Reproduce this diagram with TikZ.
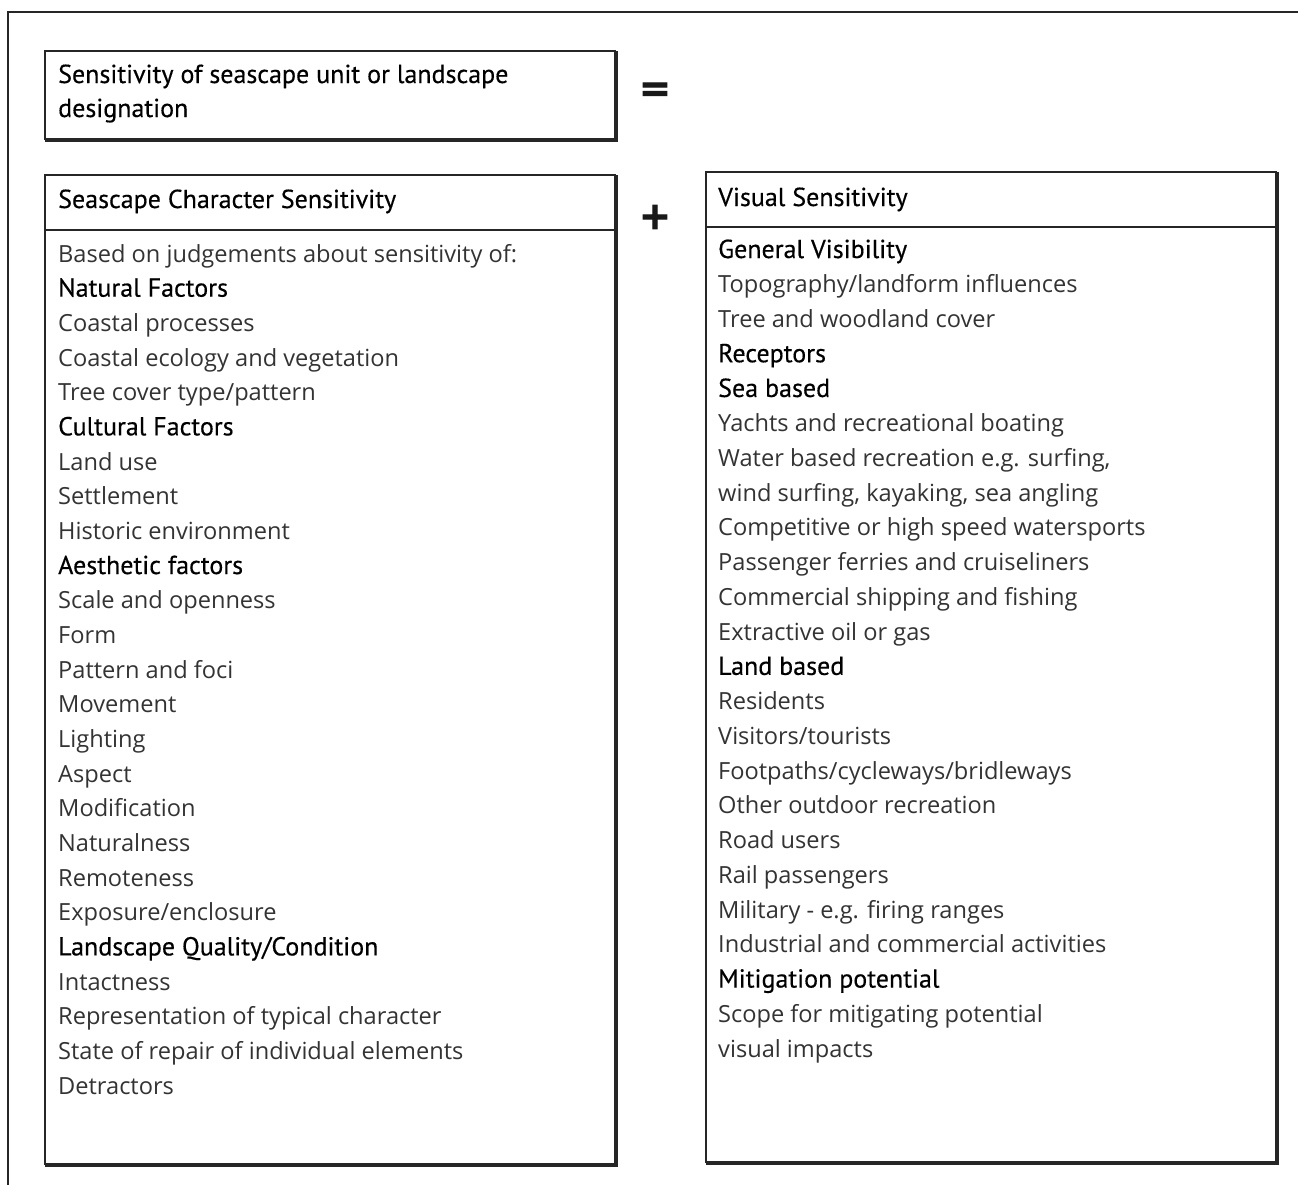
\documentclass[tikz,border=0pt]{standalone}
\usepackage{fontspec}
\setmainfont{Open Sans}
\newfontfamily\headfont[FakeBold=0.4]{PT Sans}
\newfontfamily\signfont[FakeBold=2.5, BoldFeatures={FakeBold=2.5}]{DejaVu Sans}
\newcommand\bodysize{\fontsize{23.6}{28}\selectfont}
\newcommand\hd[1]{{\headfont\fontsize{26}{28}\selectfont\color{black}#1}}
\begin{document}
\begin{tikzpicture}[x=1pt,y=-1pt,
  frame/.style={draw=black!85, line width=2pt},
  panel/.style={draw=black!85, line width=2pt, anchor=north west, inner sep=0pt},
  shade/.style={draw=black!85, line width=1.2pt},
  body/.style={anchor=base west, inner sep=0pt, font=\bodysize, text=black!80},
  title/.style={anchor=base west, inner sep=0pt, font=\headfont\fontsize{26}{28}\selectfont, text=black},
  sign/.style={inner sep=0pt, font=\signfont\bfseries\fontsize{38}{38}\selectfont, text=black!90}]
\useasboundingbox (0,0) rectangle (1298,1184);

% outer frame, open to the right and bottom
\draw[frame] (8,1190) -- (8,12) -- (1305,12);

% panels
\node[panel, minimum width=570pt, minimum height=88pt] (total) at (44,50) {};
\node[panel, minimum width=570pt, minimum height=989pt] (character) at (44,174) {};
\node[panel, minimum width=570pt, minimum height=990pt] (visual) at (705,171) {};

% slightly heavier lower and right edges
\foreach \p in {total,character,visual}
  \draw[shade] ([shift={(1pt,-1pt)}]\p.south west) -- ([shift={(1pt,-1pt)}]\p.south east)
               -- ([shift={(1pt,-1pt)}]\p.north east);

% header dividers
\draw[frame] ([yshift=-56pt]character.north west) -- ([yshift=-56pt]character.north east);
\draw[frame] ([yshift=-56pt]visual.north west) -- ([yshift=-56pt]visual.north east);

% operator signs
\node[sign] (eq) at (655,92) {=};
\node[sign] (plus) at (655,217) {+};

% titles
\node[title] (t1) at (58,83) {Sensitivity of seascape unit or landscape};
\node[title] (t2) at (58,117) {designation};
\node[title] (ch) at (58,208) {Seascape Character Sensitivity};
\node[title] (vh) at (718,206) {Visual Sensitivity};

% character sensitivity list
\foreach \t [count=\i from 0] in {
  Based on judgements about sensitivity of:,
  \hd{Natural Factors},
  Coastal processes,
  Coastal ecology and vegetation,
  Tree cover type/pattern,
  \hd{Cultural Factors},
  Land use,
  Settlement,
  Historic environment,
  \hd{Aesthetic factors},
  Scale and openness,
  Form,
  Pattern and foci,
  Movement,
  Lighting,
  Aspect,
  Modification,
  Naturalness,
  Remoteness,
  Exposure/enclosure,
  \hd{Landscape Quality/Condition},
  Intactness,
  Representation of typical character,
  State of repair of individual elements,
  Detractors}
  \node[body] (c\i) at (58,{262+34.67*\i}) {\t};

% visual sensitivity list
\foreach \t [count=\i from 0] in {
  \hd{General Visibility},
  Topography/landform influences,
  Tree and woodland cover,
  \hd{Receptors},
  \hd{Sea based},
  Yachts and recreational boating,
  {Water based recreation e.g. surfing,},
  {wind surfing, kayaking, sea angling},
  Competitive or high speed watersports,
  Passenger ferries and cruiseliners,
  Commercial shipping and fishing,
  Extractive oil or gas,
  \hd{Land based},
  Residents,
  Visitors/tourists,
  Footpaths/cycleways/bridleways,
  Other outdoor recreation,
  Road users,
  Rail passengers,
  Military - e.g. firing ranges,
  Industrial and commercial activities,
  \hd{Mitigation potential},
  Scope for mitigating potential,
  visual impacts}
  \node[body] (v\i) at (718,{258+34.74*\i}) {\t};
\end{tikzpicture}
\end{document}
